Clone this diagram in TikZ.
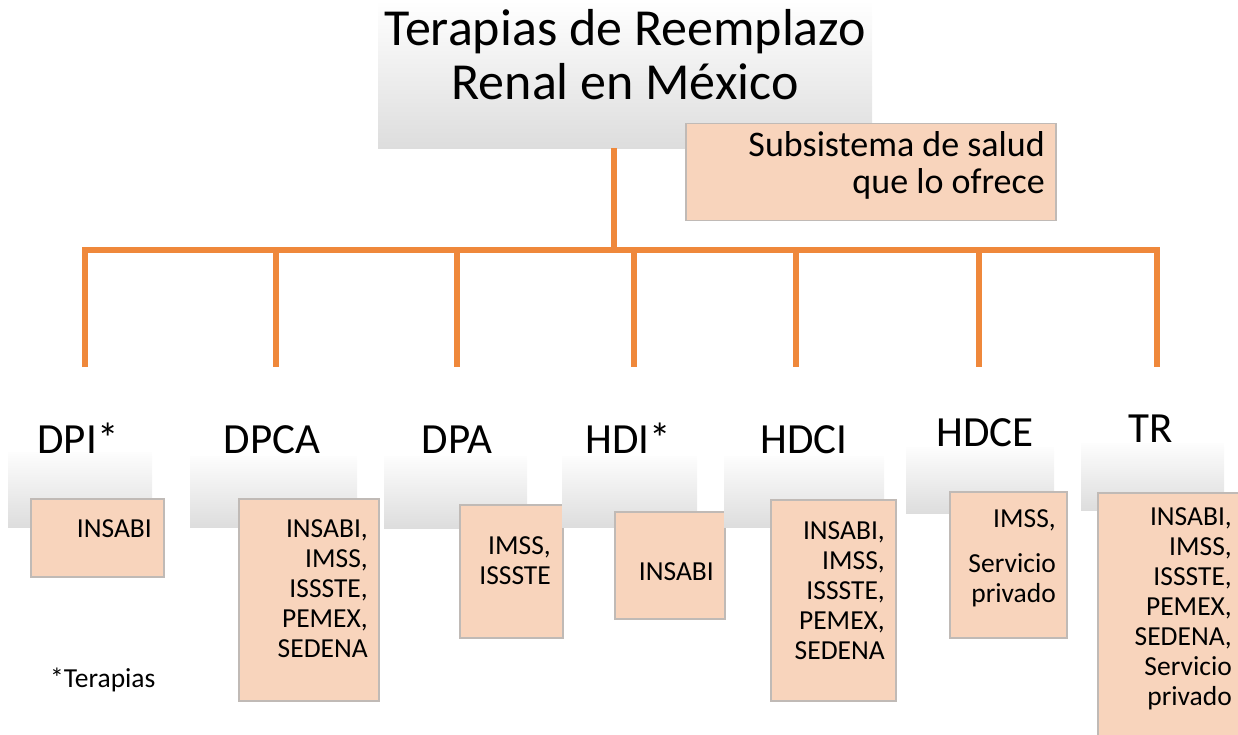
\documentclass[tikz,border=0pt]{standalone}
\usepackage{fontspec}
\setmainfont{Carlito}
\usetikzlibrary{calc,positioning}
\definecolor{naranja}{RGB}{239,136,59}
\definecolor{durazno}{RGB}{248,212,188}
\definecolor{borde}{RGB}{192,186,182}
\definecolor{grisfondo}{RGB}{221,221,221}
\tikzset{
  conector/.style={draw=naranja,line width=6pt},
  cajagris/.style={inner sep=0pt,anchor=north west,top color=white!94!grisfondo,bottom color=grisfondo},
  cajanaranja/.style={inner sep=0pt,anchor=north west,fill=durazno,draw=borde,line width=1.5pt},
  textotitulo/.style={inner sep=0pt,anchor=base,align=center,font=\fontsize{52}{54}\selectfont},
  textosub/.style={inner sep=0pt,anchor=base east,align=right,font=\fontsize{36}{37}\selectfont},
  textoetiq/.style={inner sep=0pt,anchor=base,font=\fontsize{43}{45}\selectfont},
  textocaja/.style={inner sep=0pt,anchor=base east,align=right,font=\fontsize{27.5}{30}\selectfont}
}
\begin{document}
\begin{tikzpicture}[x=1pt,y=-1pt]
\useasboundingbox (0,0) rectangle (1238,735);
% nivel superior (base = ultima linea)
\node[cajagris,top color=white,minimum width=494pt,minimum height=148pt] (titulo) at (378,0) {};
\node[textotitulo] (tit) at (625,100) {Terapias de Reemplazo\\Renal en México};
\node[cajanaranja,minimum width=370pt,minimum height=97pt] (subsis) at (685,123) {};
\node[textosub] (tsub) at (1045,194) {Subsistema de salud\\que lo ofrece};
% conectores
\coordinate (tronco) at (614,250);
\foreach \x/\n in {85/1,276/2,457/3,634/4,796/5,979/6,1157/7}
  \coordinate (pie\n) at (\x,367);
\draw[conector] (titulo.south -| tronco) -- (tronco);
\draw[conector] (pie1) -- (pie1 |- tronco) -- (pie7 |- tronco) -- (pie7);
\foreach \n in {2,...,6}
  \draw[conector] (pie\n |- tronco) -- (pie\n);
% terapias
\node[cajagris,minimum width=144pt,minimum height=75pt] (gDPI) at (8,452) {};
\node[textoetiq] (eDPI) at (78,453) {DPI*};
\node[cajanaranja,minimum width=133pt,minimum height=78pt] (oDPI) at (30,498) {};
\node[textocaja] (tDPI) at (152,537) {INSABI};

\node[cajagris,minimum width=167pt,minimum height=71pt] (gDPCA) at (190,456) {};
\node[textoetiq] (eDPCA) at (272,453) {DPCA};
\node[cajanaranja,minimum width=140pt,minimum height=202pt] (oDPCA) at (238,498) {};
\node[textocaja] (tDPCA) at (368,657) {INSABI,\\IMSS,\\ISSSTE,\\PEMEX,\\SEDENA};

\node[cajagris,minimum width=143pt,minimum height=72pt] (gDPA) at (384,456) {};
\node[textoetiq] (eDPA) at (457,453) {DPA};
\node[cajanaranja,minimum width=103pt,minimum height=133pt] (oDPA) at (459,504) {};
\node[textocaja] (tDPA) at (551,584) {IMSS,\\ISSSTE};

\node[cajagris,minimum width=135pt,minimum height=71pt] (gHDI) at (562,456) {};
\node[textoetiq] (eHDI) at (628,453) {HDI*};
\node[cajanaranja,minimum width=110pt,minimum height=107pt] (oHDI) at (614,511) {};
\node[textocaja] (tHDI) at (714,580) {INSABI};

\node[cajagris,minimum width=160pt,minimum height=71pt] (gHDCI) at (724,456) {};
\node[textoetiq] (eHDCI) at (804,453) {HDCI};
\node[cajanaranja,minimum width=125pt,minimum height=201pt] (oHDCI) at (770,499) {};
\node[textocaja] (tHDCI) at (885,659) {INSABI,\\IMSS,\\ISSSTE,\\PEMEX,\\SEDENA};

\node[cajagris,minimum width=148pt,minimum height=66pt] (gHDCE) at (906,447) {};
\node[textoetiq] (eHDCE) at (985,446) {HDCE};
\node[cajanaranja,minimum width=117pt,minimum height=146pt] (oHDCE) at (949,491) {};
\node[textocaja] (tHDCE) at (1056,602) {IMSS,\\[15pt]Servicio\\privado};

\node[cajagris,minimum width=143pt,minimum height=67pt] (gTR) at (1081,443) {};
\node[textoetiq] (eTR) at (1151,442) {TR};
\node[cajanaranja,minimum width=160pt,minimum height=260pt] (oTR) at (1097,492) {};
\node[textocaja] (tTR) at (1232,705) {INSABI,\\IMSS,\\ISSSTE,\\PEMEX,\\SEDENA,\\Servicio\\privado};

\node[textocaja,anchor=base west] (nota) at (50,687) {*Terapias};
\end{tikzpicture}
\end{document}
